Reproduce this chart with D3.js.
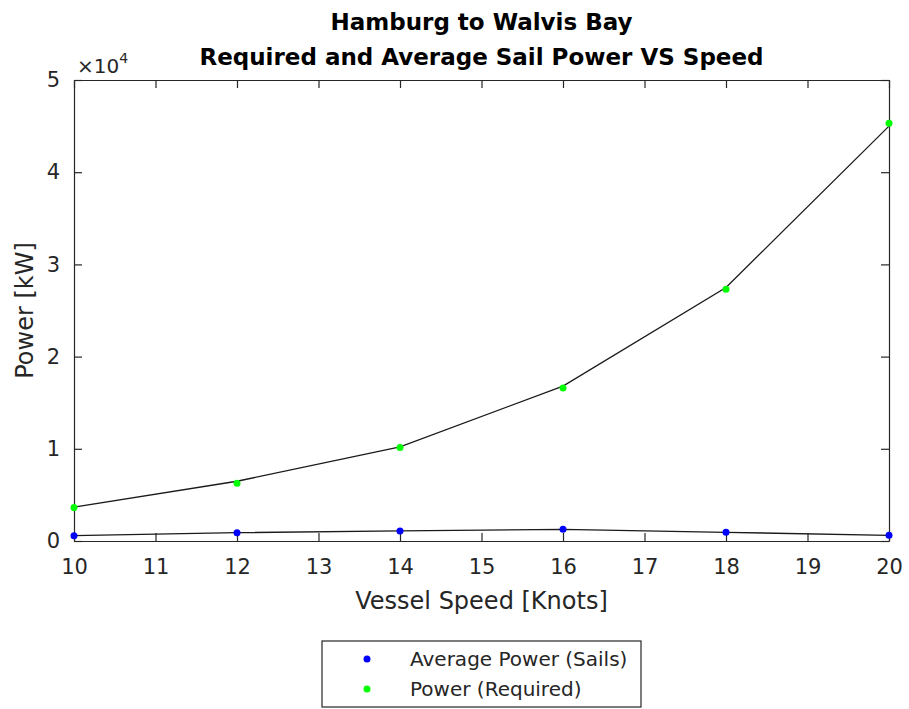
<!DOCTYPE html>
<html>
<head>
<meta charset="utf-8">
<script src="https://cdn.jsdelivr.net/npm/d3@7"></script>
<style>
  body { margin: 0; background: #fff; }
  text { font-family: "DejaVu Sans", sans-serif; fill: #262626; }
</style>
</head>
<body>
<div id="chart"></div>
<script>
const speeds = [10, 12, 14, 16, 18, 20];
const sailPower = [575, 900, 1090, 1270, 940, 620];
const requiredPower = [3620, 6260, 10150, 16600, 27300, 45300];
const requiredLine = [3680, 6480, 10200, 16800, 27500, 45000];
const xTicks = [10, 11, 12, 13, 14, 15, 16, 17, 18, 19, 20];
const yTicks = [0, 10000, 20000, 30000, 40000, 50000];

const W = 909, H = 709;
const margin = {top: 80, right: 20, bottom: 168, left: 74},
      width = W - margin.left - margin.right,
      height = H - margin.top - margin.bottom;

const root = d3.select("#chart")
               .append("svg")
               .attr("width", W)
               .attr("height", H);

const svg = root.append("g")
                .attr("transform", "translate(" + margin.left + "," + margin.top + ")");

const x = d3.scaleLinear().domain([10, 20]).range([0, width]);
const y = d3.scaleLinear().domain([0, 50000]).range([height, 0]);

const axisColor = "#262626";

// bottom + left axes with labels, top + right with ticks only
const xAxis = svg.append("g")
   .attr("transform", "translate(0," + height + ")")
   .call(d3.axisBottom(x).tickValues(xTicks).tickSizeInner(-8).tickSizeOuter(0).tickPadding(18));
const yAxis = svg.append("g")
   .call(d3.axisLeft(y).tickValues(yTicks).tickFormat(d => d / 10000)
           .tickSizeInner(-8).tickSizeOuter(0).tickPadding(14));
svg.append("g")
   .call(d3.axisTop(x).tickValues(xTicks).tickSizeInner(-8).tickSizeOuter(0).tickFormat(""));
svg.append("g")
   .attr("transform", "translate(" + width + ",0)")
   .call(d3.axisRight(y).tickValues(yTicks).tickSizeInner(-8).tickSizeOuter(0).tickFormat(""));

svg.selectAll(".domain, .tick line").attr("stroke", axisColor).attr("stroke-width", 1.2);
xAxis.selectAll("text").style("font-size", "21px").attr("fill", axisColor);
yAxis.selectAll("text").style("font-size", "21px").attr("fill", axisColor);

// exponent label
const expo = svg.append("text")
   .attr("x", 3)
   .attr("y", -7)
   .style("font-size", "20px");
expo.append("tspan").text("\u00d710");
expo.append("tspan").attr("dy", -10).style("font-size", "14px").text("4");

// lines
const line = d3.line().x(d => x(d[0])).y(d => y(d[1]));

svg.append("path")
   .datum(speeds.map((s, i) => [s, requiredLine[i]]))
   .attr("d", line)
   .attr("fill", "none")
   .attr("stroke", "#1a1a1a")
   .attr("stroke-width", 1.3);

svg.append("path")
   .datum(speeds.map((s, i) => [s, sailPower[i]]))
   .attr("d", line)
   .attr("fill", "none")
   .attr("stroke", "#1a1a1a")
   .attr("stroke-width", 1.3);

// markers
svg.selectAll(".dot-req")
   .data(speeds.map((s, i) => [s, requiredPower[i]]))
   .enter()
   .append("circle")
   .attr("cx", d => x(d[0]))
   .attr("cy", d => y(d[1]))
   .attr("r", 3.5)
   .attr("fill", "#00ff00");

svg.selectAll(".dot-sail")
   .data(speeds.map((s, i) => [s, sailPower[i]]))
   .enter()
   .append("circle")
   .attr("cx", d => x(d[0]))
   .attr("cy", d => y(d[1]))
   .attr("r", 3.5)
   .attr("fill", "#0000ff");

// titles
root.append("text")
    .attr("x", margin.left + width / 2)
    .attr("y", 30)
    .attr("text-anchor", "middle")
    .style("font-size", "23px")
    .style("font-weight", "bold")
    .attr("fill", "#000")
    .style("fill", "#000")
    .text("Hamburg to Walvis Bay");

root.append("text")
    .attr("x", margin.left + width / 2)
    .attr("y", 65)
    .attr("text-anchor", "middle")
    .style("font-size", "23px")
    .style("font-weight", "bold")
    .style("fill", "#000")
    .text("Required and Average Sail Power VS Speed");

root.append("text")
    .attr("x", margin.left + width / 2)
    .attr("y", 609)
    .attr("text-anchor", "middle")
    .style("font-size", "24px")
    .text("Vessel Speed [Knots]");

root.append("text")
    .attr("transform", "translate(33," + (margin.top + height / 2) + ") rotate(-90)")
    .attr("text-anchor", "middle")
    .style("font-size", "24px")
    .text("Power [kW]");

// legend
const legend = root.append("g").attr("transform", "translate(322,641)");
legend.append("rect")
      .attr("width", 319)
      .attr("height", 66)
      .attr("fill", "#fff")
      .attr("stroke", axisColor)
      .attr("stroke-width", 1.2);

const legendItems = [
  {label: "Average Power (Sails)", color: "#0000ff"},
  {label: "Power (Required)", color: "#00ff00"}
];

legendItems.forEach((d, i) => {
  legend.append("circle")
        .attr("cx", 45)
        .attr("cy", 18 + i * 30)
        .attr("r", 3.5)
        .attr("fill", d.color);
  legend.append("text")
        .attr("x", 88)
        .attr("y", 18 + i * 30)
        .attr("dy", "0.35em")
        .style("font-size", "20px")
        .text(d.label);
});
</script>
</body>
</html>
